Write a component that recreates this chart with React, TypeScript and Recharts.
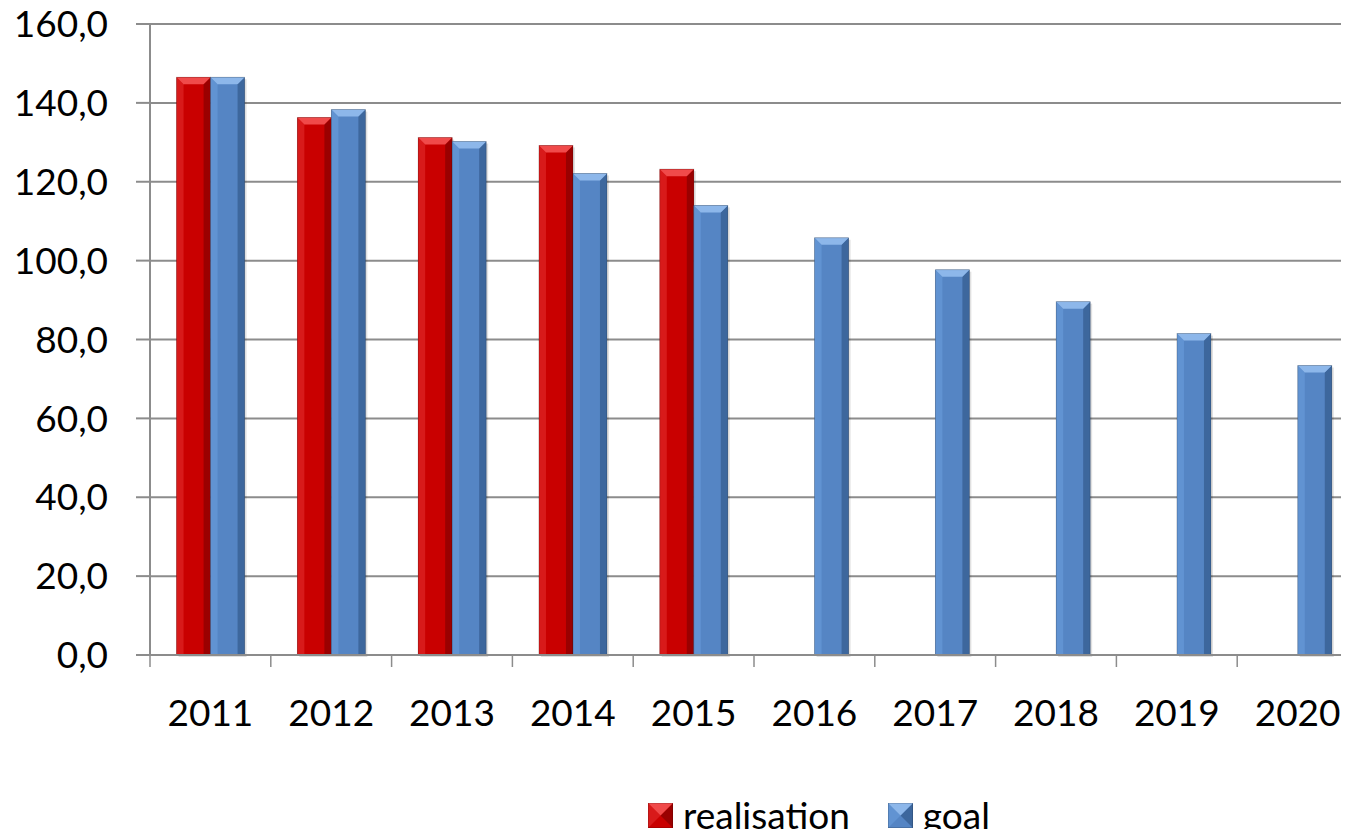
import { BarChart, Bar, XAxis, YAxis, CartesianGrid } from "recharts"

// values
const years = ["2011", "2012", "2013", "2014", "2015", "2016", "2017", "2018", "2019", "2020"]
const realisation = [146.5, 136.3, 131.2, 129.2, 123.2, null, null, null, null, null]
const goal = [146.5, 138.3, 130.2, 122.1, 114.0, 105.8, 97.7, 89.6, 81.5, 73.4]
const yTicks = [0, 20, 40, 60, 80, 100, 120, 140, 160]

const chartData = years.map((year, i) => ({
  year,
  realisation: realisation[i],
  goal: goal[i],
}))

const FONT = "Lato, 'Open Sans', sans-serif"
const GRID = "#8c8c8c"

const palette: Record<string, { base: string; top: string; left: string; right: string }> = {
  realisation: { base: "#c90000", top: "#f04a4a", left: "#d81a1a", right: "#9a0000" },
  goal: { base: "#5585c4", top: "#8db7ea", left: "#6193d2", right: "#3d679d" },
}

// bar with a small bevel, like the office-style chart
function BevelBar(props: any) {
  const { x, y, width, height, dataKey } = props
  if (height == null || height <= 0 || x == null) return null
  const c = palette[dataKey] || palette.goal
  const b = Math.min(7, width / 4, height / 2)
  return (
    <g>
      <rect x={x + 2} y={y + 2} width={width} height={height} fill="rgba(0,0,0,0.12)" />
      <rect x={x} y={y} width={width} height={height} fill={c.base} />
      <polygon points={`${x},${y} ${x + b},${y + b} ${x + b},${y + height} ${x},${y + height}`} fill={c.left} />
      <polygon
        points={`${x + width},${y} ${x + width - b},${y + b} ${x + width - b},${y + height} ${x + width},${y + height}`}
        fill={c.right}
      />
      <polygon
        points={`${x},${y} ${x + width},${y} ${x + width - b},${y + b} ${x + b},${y + b}`}
        fill={c.top}
      />
      <rect x={x} y={y} width={width} height={height} fill="none" stroke="rgba(0,0,0,0.25)" strokeWidth={0.8} />
    </g>
  )
}

// category label plus tick marks at the band edges
function YearTick(props: any) {
  const { x, y, payload, index, visibleTicksCount } = props
  const half = payload && payload.offset ? payload.offset : 60.4
  const top = y - 8
  return (
    <g>
      <line x1={x - half} y1={top} x2={x - half} y2={top + 12} stroke={GRID} strokeWidth={1.5} />
      {index === visibleTicksCount - 1 && (
        <line x1={x + half} y1={top} x2={x + half} y2={top + 12} stroke={GRID} strokeWidth={1.5} />
      )}
      <text x={x} y={y + 63} textAnchor="middle" fill="#000" fontSize={37} fontFamily={FONT}>
        {payload.value}
      </text>
    </g>
  )
}

function LegendBox() {
  const item = (label: string, key: string) => {
    const c = palette[key]
    return (
      <div style={{ display: "flex", alignItems: "center", marginRight: 38 }}>
        <svg width={25} height={25} style={{ marginRight: 10 }}>
          <rect x={0} y={0} width={25} height={25} fill={c.base} />
          <polygon points="0,0 12.5,12.5 0,25" fill={c.left} />
          <polygon points="25,0 12.5,12.5 25,25" fill={c.right} />
          <polygon points="0,0 25,0 12.5,12.5" fill={c.top} />
          <rect x={0} y={0} width={25} height={25} fill="none" stroke="rgba(0,0,0,0.3)" />
        </svg>
        <span style={{ fontSize: 37, fontFamily: FONT, color: "#000", lineHeight: "40px" }}>{label}</span>
      </div>
    )
  }
  return (
    <div style={{ position: "absolute", left: 648, top: 795, display: "flex", alignItems: "center" }}>
      {item("realisation", "realisation")}
      {item("goal", "goal")}
    </div>
  )
}

export default function App() {
  return (
    <div
      style={{
        position: "relative",
        width: 1349,
        height: 837,
        overflow: "hidden",
        margin: -8,
        background: "#fff",
      }}
    >
      <BarChart
        width={1358}
        height={837}
        data={chartData}
        margin={{ top: 24, right: 0, left: 0, bottom: 0 }}
        barCategoryGap="22%"
        barGap={0}
      >
        <CartesianGrid vertical={false} stroke={GRID} strokeWidth={2} />
        <YAxis
          width={150}
          domain={[0, 160]}
          ticks={yTicks}
          interval={0}
          axisLine={{ stroke: GRID, strokeWidth: 2 }}
          tickLine={{ stroke: GRID, strokeWidth: 2 }}
          tickSize={14}
          tickMargin={28}
          tick={{ fill: "#000", fontSize: 37, fontFamily: FONT }}
          tickFormatter={(v: number) => v.toFixed(1).replace(".", ",")}
        />
        <XAxis
          dataKey="year"
          height={182}
          interval={0}
          axisLine={{ stroke: GRID, strokeWidth: 2 }}
          tickLine={false}
          tick={<YearTick />}
        />
        <Bar dataKey="realisation" name="realisation" shape={<BevelBar />} isAnimationActive={false} />
        <Bar dataKey="goal" name="goal" shape={<BevelBar />} isAnimationActive={false} />
      </BarChart>
      <LegendBox />
    </div>
  )
}
